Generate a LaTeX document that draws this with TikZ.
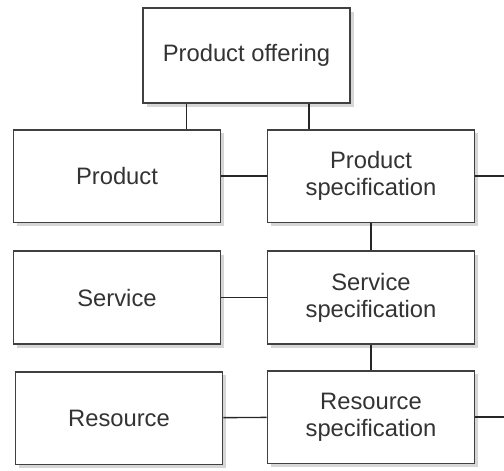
\documentclass[tikz,border=0pt]{standalone}
\usepackage{fontspec}
\setmainfont{Liberation Sans}
\usetikzlibrary{shadows,calc}
\definecolor{boxline}{HTML}{404040}
\definecolor{boxtext}{HTML}{333333}
\tikzset{
  box/.style={draw=boxline, line width=1.3pt, fill=white,
    minimum width=5.17cm, minimum height=2.32cm, inner sep=0pt,
    align=center, text=boxtext, font=\fontsize{16.9}{19}\selectfont,
    drop shadow={shadow xshift=0.09cm, shadow yshift=-0.09cm, fill=black!32}},
  link/.style={draw=black!85, line width=1pt}
}
\begin{document}
\begin{tikzpicture}[x=0.025cm,y=-0.025cm]
  \useasboundingbox (0,0) rectangle (504,470);
  % boxes
  \node[box, minimum height=2.37cm] (offering) at (246.5,55.5) {Product offering};
  \node[box] (product) at (117,176) {Product};
  \node[box] (prodspec) at (371,176) {Product\\specification};
  \node[box] (service) at (117,297.5) {Service};
  \node[box] (servspec) at (371,297.5) {Service\\specification};
  \node[box] (resource) at (119,418) {Resource};
  \node[box] (resspec) at (371,417) {Resource\\specification};
  % free ends on the right edge
  \coordinate (edge) at (504,0);
  % connectors
  \coordinate (o1) at ($(offering.south west)!0.213!(offering.south east)$);
  \coordinate (o2) at ($(offering.south west)!0.80!(offering.south east)$);
  \draw[link] (o1) -- (o1 |- product.north);
  \draw[link] (o2) -- (o2 |- prodspec.north);
  \draw[link] (product) -- (prodspec);
  \draw[link] (service) -- (servspec);
  \draw[link] (resource) -- (resspec);
  \draw[link] (prodspec) -- (servspec);
  \draw[link] (servspec) -- (resspec);
  \draw[link] (prodspec.east) -- (prodspec.east -| edge);
  \draw[link] (resspec.east) -- (resspec.east -| edge);
\end{tikzpicture}
\end{document}
